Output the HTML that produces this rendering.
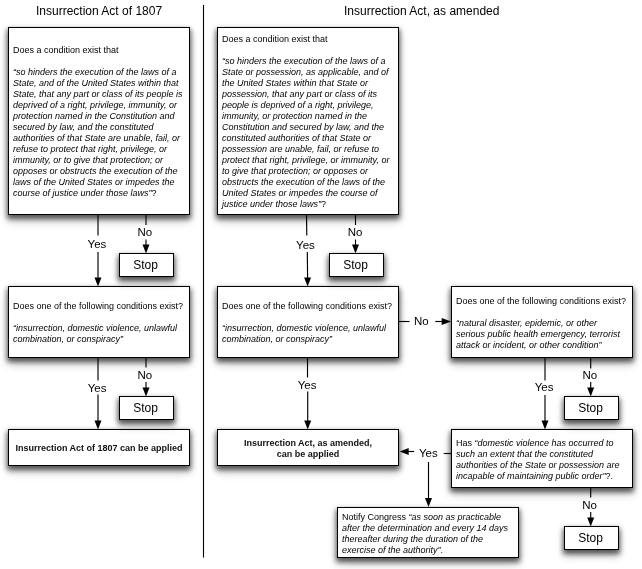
<!DOCTYPE html>
<html><head><meta charset="utf-8">
<style>
html,body{margin:0;padding:0;background:#fff;}
.wrap{position:absolute;left:0;top:0;width:642px;height:569px;will-change:transform;background:transparent;}
body{width:642px;height:569px;position:relative;overflow:hidden;font-family:"Liberation Sans",sans-serif;color:#000;}
.t{position:absolute;font-size:12px;line-height:14px;white-space:nowrap;}
.b{position:absolute;box-sizing:border-box;border:1px solid #000;background:#fff;box-shadow:0 3px 5px 1px rgba(0,0,0,0.58),0 6px 9px rgba(0,0,0,0.24);display:flex;flex-direction:column;justify-content:center;padding:2px 4px 0 4px;font-size:9px;line-height:11px;white-space:nowrap;color:#000;}
.b i{font-style:italic;}
.b.c{align-items:center;text-align:center;font-weight:bold;color:#111;}
.s{position:absolute;box-sizing:border-box;border:1px solid #000;background:#fff;box-shadow:0 3px 5px 1px rgba(0,0,0,0.58),0 6px 9px rgba(0,0,0,0.24);font-size:12px;line-height:23px;text-align:center;padding-right:2px;}
.l{position:absolute;font-size:11.5px;line-height:14px;width:40px;text-align:center;white-space:nowrap;}
svg{position:absolute;left:0;top:0;}
</style></head><body><div class="wrap">
<div class="t" style="left:36px;top:4px;">Insurrection Act of 1807</div>
<div class="t" style="left:344px;top:4px;">Insurrection Act, as amended</div>

<svg width="642" height="569" viewBox="0 0 642 569">
<line x1="203.5" y1="5" x2="203.5" y2="557.5" stroke="#000" stroke-width="1.1"/>
<g stroke="#000" stroke-width="1.15" fill="none">
<line x1="98" y1="215" x2="98" y2="235.5"/>
<line x1="98" y1="252" x2="98" y2="278"/>
<line x1="146" y1="215" x2="146" y2="225"/>
<line x1="146" y1="239.5" x2="146" y2="245"/>
<line x1="98" y1="358" x2="98" y2="380.5"/>
<line x1="98" y1="394.5" x2="98" y2="421"/>
<line x1="146" y1="358" x2="146" y2="367.5"/>
<line x1="146" y1="382" x2="146" y2="388"/>
<line x1="306.5" y1="215" x2="306.8" y2="235.5"/>
<line x1="307.3" y1="252" x2="307.6" y2="278"/>
<line x1="355.5" y1="215" x2="355.5" y2="225"/>
<line x1="355.5" y1="239.5" x2="355.5" y2="245"/>
<line x1="307.5" y1="358" x2="307.5" y2="377.5"/>
<line x1="307.7" y1="391.5" x2="307.7" y2="421"/>
<line x1="399" y1="321.5" x2="409.6" y2="321.5"/>
<line x1="435.3" y1="321.5" x2="443" y2="321.5"/>
<line x1="545" y1="358" x2="545" y2="380.5"/>
<line x1="545" y1="395" x2="545" y2="421"/>
<line x1="590.7" y1="358" x2="590.7" y2="368.5"/>
<line x1="590.7" y1="382" x2="590.7" y2="388"/>
<line x1="590.7" y1="487" x2="590.7" y2="497.5"/>
<line x1="590.7" y1="512" x2="590.7" y2="518"/>
<line x1="443.7" y1="453.5" x2="451" y2="453.5"/>
<line x1="407" y1="451.5" x2="414.2" y2="451.5"/>
<line x1="428.5" y1="462" x2="428.5" y2="499"/>
</g>
<g fill="#000">
<path d="M94.5 277.5 L101.5 277.5 L98 286.5 Z"/>
<path d="M142.5 244.5 L149.5 244.5 L146 253.5 Z"/>
<path d="M94.5 420.5 L101.5 420.5 L98 429.5 Z"/>
<path d="M142.5 387.5 L149.5 387.5 L146 396.5 Z"/>
<path d="M304.1 277.5 L311.1 277.5 L307.6 286.5 Z"/>
<path d="M352.0 244.5 L359.0 244.5 L355.5 253.5 Z"/>
<path d="M304.2 420.5 L311.2 420.5 L307.7 429.5 Z"/>
<path d="M441.7 318.0 L441.7 325.0 L451.2 321.5 Z"/>
<path d="M541.5 420.5 L548.5 420.5 L545 429.5 Z"/>
<path d="M587.2 387.5 L594.2 387.5 L590.7 396.5 Z"/>
<path d="M587.2 517.5 L594.2 517.5 L590.7 526.5 Z"/>
<path d="M408.7 448.0 L408.7 455.0 L399.7 451.5 Z"/>
<path d="M425.0 498 L432.0 498 L428.5 507 Z"/>
</g>
</svg>

<!-- left column -->
<div class="b" style="left:8px;top:27px;width:182px;height:188px;">
<div>Does a condition exist that<br><br>
<i>&ldquo;so hinders the execution of the laws of a<br>State, and of the United States within that<br>State, that any part or class of its people is<br>deprived of a right, privilege, immunity, or<br>protection named in the Constitution and<br>secured by law, and the constituted<br>authorities of that State are unable, fail, or<br>refuse to protect that right, privilege, or<br>immunity, or to give that protection; or<br>opposes or obstructs the execution of the<br>laws of the United States or impedes the<br>course of justice under those laws&rdquo;</i>?</div>
</div>
<div class="b" style="left:8px;top:286px;width:182px;height:72px;">
<div>Does one of the following conditions exist?<br><br>
<i>&ldquo;insurrection, domestic violence, unlawful<br>combination, or conspiracy&rdquo;</i></div>
</div>
<div class="b c" style="left:8px;top:429px;width:182px;height:37px;">Insurrection Act of 1807 can be applied</div>
<div class="s" style="left:119px;top:253px;width:55px;height:24px;">Stop</div>
<div class="s" style="left:119px;top:396px;width:55px;height:24px;">Stop</div>

<!-- right column -->
<div class="b" style="left:217px;top:27px;width:182px;height:188px;">
<div>Does a condition exist that<br><br>
<i>&ldquo;so hinders the execution of the laws of a<br>State or possession, as applicable, and of<br>the United States within that State or<br>possession, that any part or class of its<br>people is deprived of a right, privilege,<br>immunity, or protection named in the<br>Constitution and secured by law, and the<br>constituted authorities of that State or<br>possession are unable, fail, or refuse to<br>protect that right, privilege, or immunity, or<br>to give that protection; or opposes or<br>obstructs the execution of the laws of the<br>United States or impedes the course of<br>justice under those laws&rdquo;</i>?</div>
</div>
<div class="b" style="left:217px;top:286px;width:182px;height:72px;">
<div>Does one of the following conditions exist?<br><br>
<i>&ldquo;insurrection, domestic violence, unlawful<br>combination, or conspiracy&rdquo;</i></div>
</div>
<div class="b" style="left:451px;top:286px;width:182px;height:72px;">
<div>Does one of the following conditions exist?<br><br>
<i>&ldquo;natural disaster, epidemic, or other<br>serious public health emergency, terrorist<br>attack or incident, or other condition&rdquo;</i></div>
</div>
<div class="b" style="left:451px;top:429px;width:182px;height:59px;">
<div>Has <i>&ldquo;domestic violence has occurred to<br>such an extent that the constituted<br>authorities of the State or possession are<br>incapable of maintaining public order&rdquo;</i>?.</div>
</div>
<div class="b c" style="left:217px;top:429px;width:182px;height:37px;">Insurrection Act, as amended,<br>can be applied</div>
<div class="b" style="left:337px;top:507px;width:182px;height:51px;">
<div>Notify Congress <i>&ldquo;as soon as practicable<br>after the determination and every 14 days<br>thereafter during the duration of the<br>exercise of the authority&rdquo;</i>.</div>
</div>
<div class="s" style="left:329px;top:253px;width:55px;height:24px;">Stop</div>
<div class="s" style="left:564px;top:396px;width:55px;height:24px;">Stop</div>
<div class="s" style="left:564px;top:526px;width:55px;height:24px;">Stop</div>

<!-- labels -->
<div class="l" style="left:77.00px;top:237.00px;">Yes</div>
<div class="l" style="left:124.80px;top:224.50px;">No</div>
<div class="l" style="left:77.15px;top:380.50px;">Yes</div>
<div class="l" style="left:124.80px;top:367.60px;">No</div>
<div class="l" style="left:285.45px;top:237.50px;">Yes</div>
<div class="l" style="left:335.05px;top:224.50px;">No</div>
<div class="l" style="left:287.15px;top:377.50px;">Yes</div>
<div class="l" style="left:401.25px;top:314.00px;">No</div>
<div class="l" style="left:524.15px;top:380.40px;">Yes</div>
<div class="l" style="left:569.85px;top:367.50px;">No</div>
<div class="l" style="left:408.30px;top:446.20px;">Yes</div>
<div class="l" style="left:569.50px;top:497.80px;">No</div>
</div></body></html>
